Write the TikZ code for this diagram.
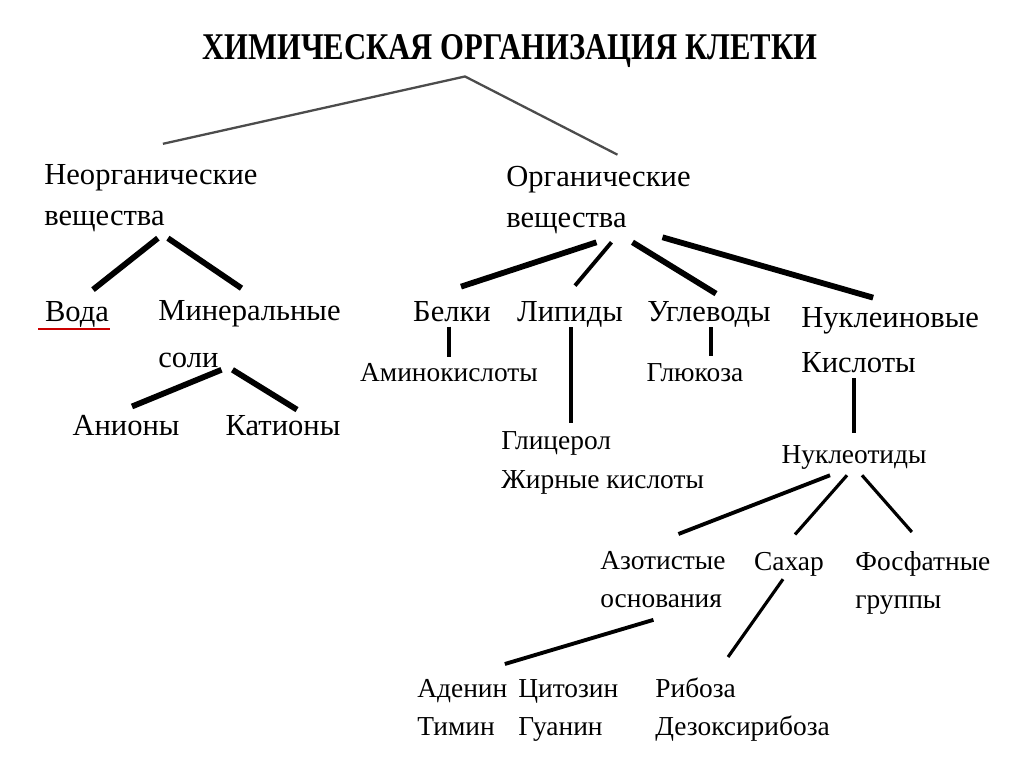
\documentclass[tikz,border=0pt]{standalone}
\usepackage{graphicx}
\usepackage{fontspec}
\setmainfont{Liberation Serif}
\usetikzlibrary{calc}

\tikzset{
  lbl/.style={inner sep=0pt, align=left, font=\fontsize{17.4}{23.5}\selectfont},
  sub/.style={inner sep=0pt, align=left, font=\fontsize{15.6}{22}\selectfont},
  thin/.style={line width=1.3pt, black!70},
  heavy/.style={line width=3.3pt},
  mid/.style={line width=2.2pt},
  lite/.style={line width=1.8pt}
}

\begin{document}
\begin{tikzpicture}[x=0.02cm, y=-0.02cm]
    \fill[white] (0,0) rectangle (1024,767);
    \useasboundingbox (0,0) rectangle (1024,767);

    \node[inner sep=0pt] (title) at (510,51) {\resizebox{12.3cm}{0.5cm}{\bfseries ХИМИЧЕСКАЯ ОРГАНИЗАЦИЯ КЛЕТКИ}};

    \node[lbl, anchor=west] (inorg) at (44,198) {Неорганические\\вещества};
    \node[lbl, anchor=west] (org) at (506,200) {Органические\\вещества};

    \node[lbl, anchor=base] (voda) at (77,321) {Вода};
    \node[lbl, anchor=west] (mineral) at (158,334) {Минеральные\\[3pt]соли};
    \node[lbl, anchor=base] (anion) at (126,435) {Анионы};
    \node[lbl, anchor=base] (cation) at (283,435) {Катионы};

    \node[lbl, anchor=base] (belki) at (452,321) {Белки};
    \node[lbl, anchor=base] (lipid) at (570,321) {Липиды};
    \node[lbl, anchor=base] (uglev) at (709,321) {Углеводы};
    \node[lbl, anchor=west] (nucl) at (801,340) {Нуклеиновые\\[2.5pt]Кислоты};

    \node[sub, anchor=base] (amino) at (449,381) {Аминокислоты};
    \node[sub, anchor=west] (glic) at (501,463) {Глицерол\\Жирные кислоты};
    \node[sub, anchor=base] (gluk) at (695,381) {Глюкоза};
    \node[sub, anchor=base] (nucleo) at (854,463) {Нуклеотиды};

    \node[sub, anchor=north west] (azot) at (600,551) {\vphantom{Ф}Азотистые\\[-0.5pt]основания};
    \node[sub, anchor=base] (sahar) at (789,570) {Сахар};
    \node[sub, anchor=north west] (fosf) at (855,551) {Фосфатные\\[-0.5pt]группы};

    \node[sub, anchor=north west] (bases) at (417,678) {\vphantom{б}\makebox[2.02cm][l]{Аденин}Цитозин\\[-0.5pt]\makebox[2.02cm][l]{Тимин}Гуанин};
    \node[sub, anchor=north west] (ribose) at (655,678) {Рибоза\\[-0.5pt]Дезоксирибоза};

    \draw[red!80!black, line width=1.3pt] ($(voda.south)+(-39,2)$) -- ($(voda.south)+(33,2)$);

    \draw[thin] ($(inorg.north)+(12,-20)$) -- ($(title.base)+(-45,17)$) -- ($(org.north)+(19,-11)$);

    \draw[heavy] ($(inorg.south)+(7,6)$) -- ($(voda.north)+(16,-11)$);
    \draw[heavy] ($(inorg.south)+(17,6)$) -- ($(mineral.north)+(-8,-12)$);
    \draw[heavy] ($(mineral.south)+(-28,2)$) -- ($(anion.north)+(6,-8)$);
    \draw[heavy] ($(mineral.south)+(-17,2)$) -- ($(cation.north)+(14,-5)$);

    \draw[heavy] ($(org.south)+(-2,8)$) -- ($(belki.north)+(9,-14)$);
    \draw[mid] ($(org.south)+(13,8)$) -- ($(lipid.north)+(5,-15)$);
    \draw[heavy] ($(org.south)+(34,8)$) -- ($(uglev.north)+(7,-7)$);
    \draw[heavy] ($(org.south)+(64,3)$) -- ($(nucl.north)+(-17,-9)$);

    \draw[lite] ($(belki.south)+(-3,5)$) -- ($(amino.north)+(0,-6)$);
    \draw[lite] ($(lipid.south)+(1,0)$) -- ($(lipid.south |- glic.north)+(1,-8)$);
    \draw[lite] ($(uglev.south)+(2,0)$) -- ($(uglev.south |- gluk.north)+(2,-7)$);
    \draw[lite] ($(nucleo.north |- nucl.south)+(0,5)$) -- ($(nucleo.north)+(0,-12)$);

    \draw[mid] ($(nucleo.south)+(-24,6)$) -- ($(azot.north)+(15.5,-17)$);
    \draw[lite] ($(nucleo.south)+(-7,6)$) -- ($(sahar.north)+(6,-17)$);
    \draw[lite] ($(nucleo.south)+(8,6)$) -- ($(fosf.north)+(-11,-19)$);

    \draw[mid] ($(azot.south)+(-9.5,12)$) -- ($(bases.north)+(-13,-14)$);
    \draw[lite] ($(sahar.south)+(-6,3)$) -- ($(ribose.north)+(-14.5,-21)$);
\end{tikzpicture}
\end{document}
